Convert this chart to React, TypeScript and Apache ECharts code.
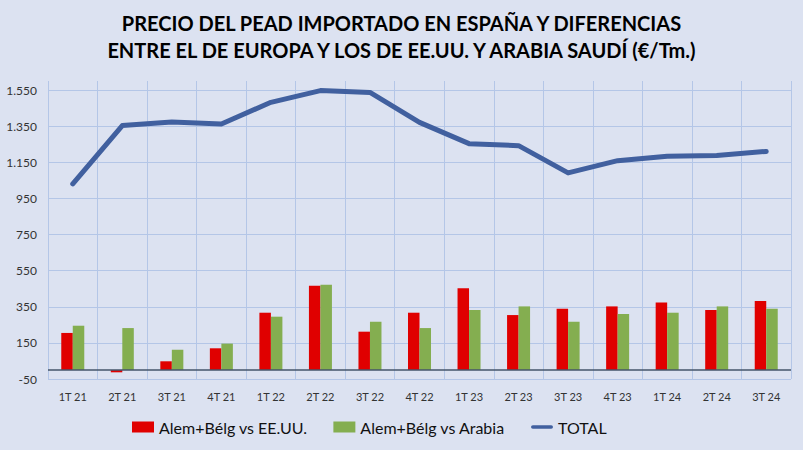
import { useEffect, useRef } from "react";
import * as echarts from "echarts";

const quarters = [
  "1T 21", "2T 21", "3T 21", "4T 21",
  "1T 22", "2T 22", "3T 22", "4T 22",
  "1T 23", "2T 23", "3T 23", "4T 23",
  "1T 24", "2T 24", "3T 24",
];

// diferencia Alemania+Bélgica frente a EE.UU.
const vsUsa = [205, -13, 48, 120, 317, 467, 212, 317, 452, 304, 339, 352, 374, 332, 382];
// diferencia Alemania+Bélgica frente a Arabia Saudí
const vsArabia = [245, 232, 112, 146, 295, 472, 267, 232, 332, 352, 267, 310, 317, 352, 339];
// precio total importado
const total = [1030, 1353, 1373, 1362, 1482, 1547, 1537, 1371, 1253, 1242, 1091, 1159, 1183, 1188, 1210];

const yTicks = [-50, 150, 350, 550, 750, 950, 1150, 1350, 1550];

const FONT = "Lato, 'Open Sans', sans-serif";
const GRID = "#B4C6E7";
const CLEAR = "rgba(0,0,0,0)";
const LINE = "#41609F";

const fmt = (v: number) => String(v).replace(/\B(?=(\d{3})+(?!\d))/g, ".");

export default function App() {
  const ref = useRef<HTMLDivElement>(null);

  useEffect(() => {
    document.body.style.margin = "0";
    if (!ref.current) return;
    const chart = echarts.init(ref.current, undefined, { renderer: "svg" });
    chart.setOption({
      animation: false,
      backgroundColor: "#DCE2F1",
      textStyle: { fontFamily: FONT },
      title: {
        text: "PRECIO DEL PEAD IMPORTADO EN ESPAÑA Y DIFERENCIAS\nENTRE EL DE EUROPA Y LOS DE EE.UU. Y ARABIA SAUDÍ (€/Tm.)",
        left: "center",
        top: 9,
        padding: 0,
        textStyle: {
          fontFamily: FONT,
          fontSize: 20,
          fontWeight: "bold",
          lineHeight: 27,
          color: "#000000",
        },
      },
      legend: {
        left: 132,
        top: 419,
        padding: 0,
        itemGap: 26,
        itemWidth: 22,
        itemHeight: 11,
        textStyle: { fontFamily: FONT, fontSize: 16, color: "#111111" },
        data: [
          { name: "Alem+Bélg vs EE.UU.", icon: "rect" },
          { name: "Alem+Bélg vs Arabia", icon: "rect" },
          { name: "TOTAL", icon: "path://M2,0 L22,0 A2,2 0 0 1 22,4 L2,4 A2,2 0 0 1 2,0 Z", itemStyle: { color: LINE } },
        ],
      },
      grid: { left: 48, right: 12, top: 81, bottom: 71 },
      xAxis: {
        type: "category",
        data: quarters,
        boundaryGap: true,
        axisLine: { show: false, onZero: false },
        axisTick: { show: false },
        splitLine: { show: true, lineStyle: { color: GRID, width: 1 } },
        axisLabel: { color: "#333333", fontSize: 11, margin: 12, fontFamily: FONT },
      },
      yAxis: {
        type: "value",
        min: -50,
        max: 1600,
        interval: 50,
        axisLine: { show: false },
        axisTick: { show: false },
        axisLabel: {
          color: "#333333",
          fontSize: 12,
          margin: 11,
          fontFamily: FONT,
          formatter: (v: number) => (yTicks.includes(v) ? fmt(v) : ""),
        },
        splitLine: {
          show: true,
          lineStyle: { color: [GRID, CLEAR, CLEAR, CLEAR], width: 1 },
        },
      },
      series: [
        {
          name: "Alem+Bélg vs EE.UU.",
          type: "bar",
          data: vsUsa,
          barWidth: 11.5,
          barGap: "0%",
          itemStyle: { color: "#E00000" },
          markLine: {
            silent: true,
            symbol: ["none", "none"],
            label: { show: false },
            lineStyle: { color: "#44546A", type: "solid", width: 1.5 },
            data: [{ yAxis: 0 }],
          },
        },
        {
          name: "Alem+Bélg vs Arabia",
          type: "bar",
          data: vsArabia,
          barWidth: 11.5,
          barGap: "0%",
          itemStyle: { color: "#84AE50" },
        },
        {
          name: "TOTAL",
          type: "line",
          data: total,
          symbol: "none",
          showSymbol: false,
          z: 5,
          lineStyle: { color: LINE, width: 5, cap: "round", join: "round" },
          itemStyle: { color: LINE },
        },
      ],
    });
    return () => chart.dispose();
  }, []);

  return <div ref={ref} style={{ width: 803, height: 450 }} />;
}
